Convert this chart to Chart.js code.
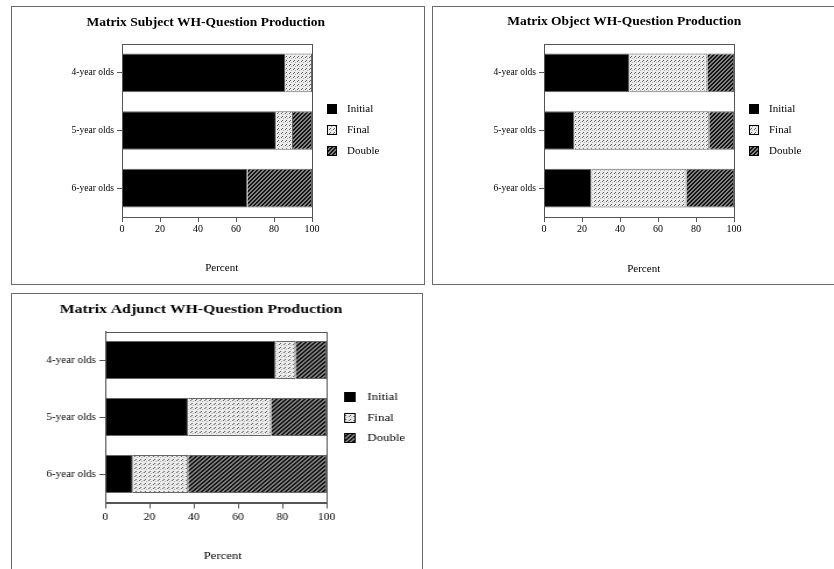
<!DOCTYPE html>
<html>
<head>
<meta charset="utf-8">
<script src="https://cdn.jsdelivr.net/npm/chart.js@4"></script>
<style>
  html, body { margin: 0; padding: 0; background: #fff; width: 834px; height: 569px; overflow: hidden; }
  .panel { position: absolute; box-sizing: border-box; border: 1px solid #6a6a6a; background: #fff; }
  canvas { position: absolute; display: block; }
</style>
</head>
<body>
<div class="panel" style="left:11px; top:6px; width:414px; height:279px;"></div>
<div class="panel" style="left:432px; top:6px; width:420px; height:279px;"></div>
<div class="panel" style="left:11px; top:293px; width:412px; height:300px;"></div>
<canvas id="subject" width="411" height="276" style="left:12px; top:7px; width:411px; height:276px;"></canvas>
<canvas id="object" width="400" height="276" style="left:433px; top:7px; width:400px; height:276px;"></canvas>
<canvas id="adjunct" width="352" height="275" style="left:12px; top:294px; width:352px; height:275px; transform:scaleX(1.165); transform-origin:0 0;"></canvas>
<script>
// Age groups on the category axis and the three answer types in each stack
const ageGroups = ['4-year olds', '5-year olds', '6-year olds'];
const seriesNames = ['Initial', 'Final', 'Double'];
const percentTicks = [0, 20, 40, 60, 80, 100];
const axisCaption = 'Percent';

// Matrix subject questions (percent of productions)
const subjectInitial = [86, 81, 66];
const subjectFinal = [14, 9, 0];
const subjectDouble = [0, 10, 34];

// Matrix object questions
const objectInitial = [45, 16, 25];
const objectFinal = [41, 71, 50];
const objectDouble = [14, 13, 25];

// Matrix adjunct questions
const adjunctInitial = [77, 37.5, 12.5];
const adjunctFinal = [9, 37.5, 25];
const adjunctDouble = [14, 25, 62.5];

const panelTitles = [
  'Matrix Subject WH-Question Production',
  'Matrix Object WH-Question Production',
  'Matrix Adjunct WH-Question Production'
];

const SERIF = '"Liberation Serif", "Times New Roman", Times, serif';
Chart.defaults.font.family = SERIF;
Chart.defaults.color = '#000';

// Fill patterns: solid black, light dashed stipple, dark diagonal hatch
function makeTile(draw) {
  const c = document.createElement('canvas');
  c.width = 4; c.height = 4;
  const g = c.getContext('2d');
  draw(g);
  return c;
}
const probe = document.createElement('canvas').getContext('2d');
const finalFill = probe.createPattern(makeTile(g => {
  g.fillStyle = '#ececec'; g.fillRect(0, 0, 4, 4);
  g.fillStyle = '#5e5e5e'; g.fillRect(1, 2, 1, 1); g.fillRect(2, 1, 1, 1);
  g.fillStyle = '#b0b0b0'; g.fillRect(3, 3, 1, 1);
}), 'repeat');
const doubleFill = probe.createPattern(makeTile(g => {
  g.fillStyle = '#808080'; g.fillRect(0, 0, 4, 4);
  g.fillStyle = '#151515';
  for (let x = 0; x < 4; x++) {
    for (let y = 0; y < 4; y++) {
      const s = (x + y) % 4;
      if (s === 3 || s === 0) g.fillRect(x, y, 1, 1);
    }
  }
}), 'repeat');
const seriesFills = ['#000000', finalFill, doubleFill];

// Frame around the plot, heading, axis caption and side legend
const panelDecor = {
  id: 'panelDecor',
  afterDatasetsDraw(chart) {
    const { ctx, chartArea: a } = chart;
    const l = Math.round(a.left) + 0.5, t = Math.round(a.top) + 0.5;
    const r = Math.round(a.right) + 0.5, b = Math.round(a.bottom) + 0.5;
    ctx.save();
    ctx.strokeStyle = '#555';
    ctx.lineWidth = 1;
    ctx.strokeRect(l, t, r - l, b - t);
    ctx.restore();
  },
  afterDraw(chart, args, o) {
    const { ctx, chartArea: a } = chart;
    ctx.save();
    ctx.fillStyle = '#000';
    ctx.textAlign = 'center';
    ctx.textBaseline = 'middle';
    ctx.font = 'bold 13.5px ' + SERIF;
    ctx.fillText(o.title, o.titleX, o.titleY);
    ctx.font = '11px ' + SERIF;
    ctx.fillText(o.caption, o.captionX, o.captionY);

    const cy = (a.top + a.bottom) / 2 + o.legendShift;
    const bx = Math.round(a.right + 15);
    ctx.textAlign = 'left';
    chart.data.datasets.forEach((ds, i) => {
      const y = cy + (i - 1) * o.rowGap;
      const top = Math.round(y - 5);
      ctx.fillStyle = ds.backgroundColor;
      ctx.fillRect(bx, top, 10, 10);
      ctx.strokeStyle = '#000';
      ctx.lineWidth = 1;
      ctx.strokeRect(bx + 0.5, top + 0.5, 9, 9);
      ctx.fillStyle = '#000';
      ctx.font = '11px ' + SERIF;
      ctx.fillText(ds.label, a.right + 35, y);
    });
    ctx.restore();
  }
};

function buildChart(id, title, values, g) {
  const datasets = seriesNames.map((name, i) => ({
    label: name,
    data: values[i],
    backgroundColor: seriesFills[i],
    borderColor: '#666',
    borderWidth: 1,
    barPercentage: 0.67,
    categoryPercentage: 1
  }));
  return new Chart(document.getElementById(id), {
    type: 'bar',
    data: { labels: ageGroups, datasets },
    options: {
      indexAxis: 'y',
      responsive: false,
      animation: false,
      layout: { padding: { left: 0, right: g.padRight, top: g.padTop, bottom: 0 } },
      scales: {
        x: {
          type: 'linear',
          stacked: true,
          min: 0,
          max: 100,
          afterBuildTicks: s => { s.ticks = percentTicks.map(v => ({ value: v })); },
          afterFit: s => { s.height = g.xAxisHeight; },
          grid: { drawOnChartArea: false, tickLength: g.tickLen, color: '#555' },
          border: { color: '#555' },
          ticks: { font: { size: 10 }, color: '#000', padding: g.tickPad, maxRotation: 0 }
        },
        y: {
          type: 'category',
          stacked: true,
          afterFit: s => { s.width = g.yAxisWidth; },
          grid: { offset: false, drawOnChartArea: false, tickLength: 5, color: '#555' },
          border: { color: '#555' },
          ticks: { font: { size: 9.5 }, color: '#000', padding: 3 }
        }
      },
      plugins: {
        legend: { display: false },
        title: { display: false },
        tooltip: { enabled: false },
        panelDecor: {
          title: title,
          titleX: g.titleX, titleY: g.titleY,
          caption: axisCaption,
          captionX: g.captionX, captionY: g.captionY,
          rowGap: g.rowGap, legendShift: g.legendShift
        }
      }
    },
    plugins: [panelDecor]
  });
}

buildChart('subject', panelTitles[0], [subjectInitial, subjectFinal, subjectDouble], {
  yAxisWidth: 110, padRight: 111, padTop: 37, xAxisHeight: 66,
  tickLen: 5, tickPad: 1,
  titleX: 193.7, titleY: 15.3, captionX: 209.7, captionY: 261.3,
  rowGap: 21, legendShift: -0.3
});

buildChart('object', panelTitles[1], [objectInitial, objectFinal, objectDouble], {
  yAxisWidth: 111, padRight: 99, padTop: 37, xAxisHeight: 66,
  tickLen: 5, tickPad: 1,
  titleX: 191.2, titleY: 14.7, captionX: 210.7, captionY: 262.3,
  rowGap: 21, legendShift: -0.8
});

buildChart('adjunct', panelTitles[2], [adjunctInitial, adjunctFinal, adjunctDouble], {
  yAxisWidth: 80, padRight: 82, padTop: 37.5, xAxisHeight: 66.5,
  tickLen: 6, tickPad: 3,
  titleX: 162.2, titleY: 15.3, captionX: 180.9, captionY: 261.7,
  rowGap: 20.7, legendShift: 0.7
});
</script>
</body>
</html>
